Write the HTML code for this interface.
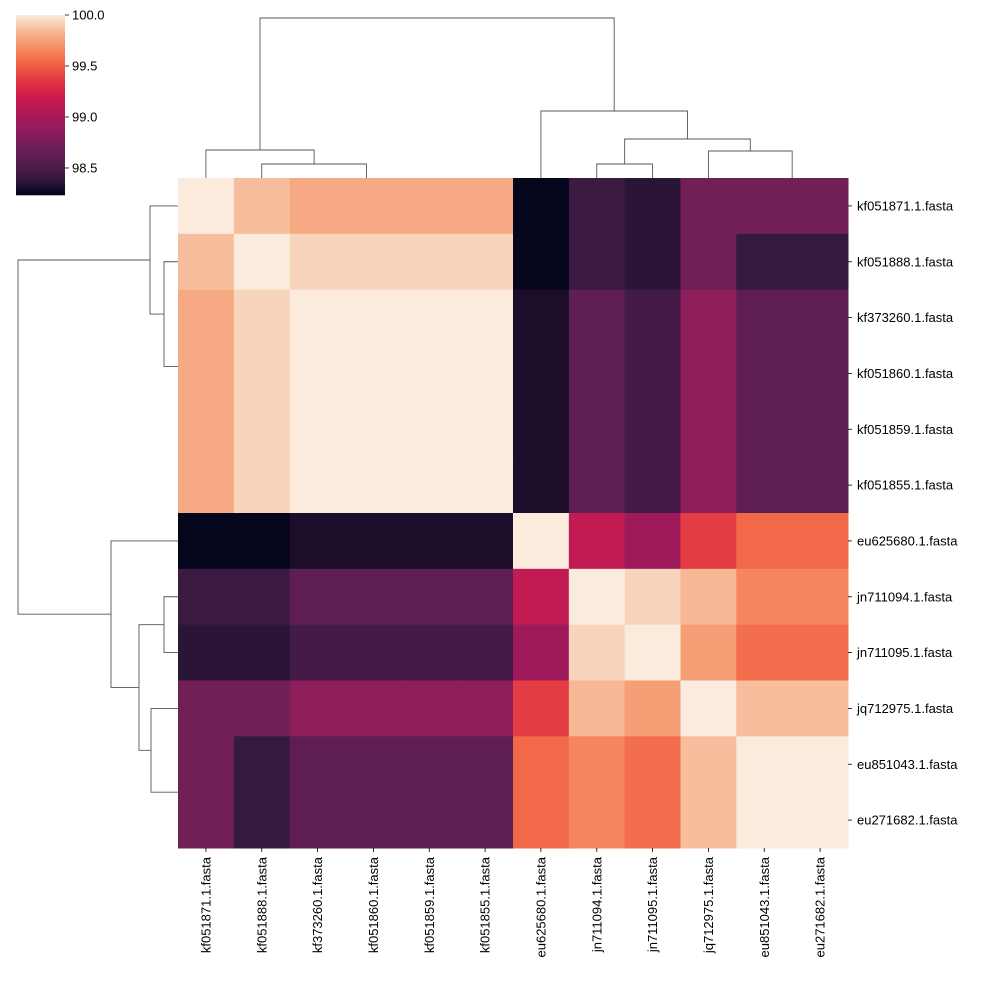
<!DOCTYPE html>
<html><head><meta charset="utf-8"><style>
html,body{margin:0;padding:0;background:#fff;}
svg{display:block;font-family:"Liberation Sans","DejaVu Sans",sans-serif;}
</style></head><body>
<svg id="chart" width="990" height="990" viewBox="0 0 990 990" xmlns="http://www.w3.org/2000/svg"></svg>
<script>
const labels = ["kf051871.1.fasta","kf051888.1.fasta","kf373260.1.fasta","kf051860.1.fasta","kf051859.1.fasta","kf051855.1.fasta","eu625680.1.fasta","jn711094.1.fasta","jn711095.1.fasta","jq712975.1.fasta","eu851043.1.fasta","eu271682.1.fasta"];
const matrix = [
 [100.00,99.86,99.79,99.79,99.79,99.79,98.24,98.43,98.36,98.72,98.72,98.72],
 [99.86,100.00,99.93,99.93,99.93,99.93,98.24,98.43,98.36,98.72,98.40,98.40],
 [99.79,99.93,100.00,100.00,100.00,100.00,98.31,98.61,98.47,98.87,98.61,98.61],
 [99.79,99.93,100.00,100.00,100.00,100.00,98.31,98.61,98.47,98.87,98.61,98.61],
 [99.79,99.93,100.00,100.00,100.00,100.00,98.31,98.61,98.47,98.87,98.61,98.61],
 [99.79,99.93,100.00,100.00,100.00,100.00,98.31,98.61,98.47,98.87,98.61,98.61],
 [98.24,98.24,98.31,98.31,98.31,98.31,100.00,99.14,98.96,99.38,99.54,99.54],
 [98.43,98.43,98.61,98.61,98.61,98.61,99.14,100.00,99.93,99.84,99.65,99.65],
 [98.36,98.36,98.47,98.47,98.47,98.47,98.96,99.93,100.00,99.75,99.56,99.56],
 [98.72,98.72,98.87,98.87,98.87,98.87,99.38,99.84,99.75,100.00,99.86,99.86],
 [98.72,98.40,98.61,98.61,98.61,98.61,99.54,99.65,99.56,99.86,100.00,100.00],
 [98.72,98.40,98.61,98.61,98.61,98.61,99.54,99.65,99.56,99.86,100.00,100.00]
];
const cbTicks = [98.5,99.0,99.5,100.0];
const vmin = 98.235, vmax = 100.0;
// dendrogram links: [leftPos, rightPos, height(px), leftChildHeight, rightChildHeight] in leaf-index units
const links = [
 [4,5,0,0,0],
 [3,4.5,0,0,0],
 [2,3.75,0,0,0],
 [1,2.875,14,0,0],
 [0,1.9375,28,0,14],
 [10,11,0,0,0],
 [7,8,14,0,0],
 [9,10.5,27,0,0],
 [7.5,9.75,39,14,27],
 [6,8.625,67,0,39],
 [0.96875,7.3125,160,28,67]
];
const stops=[[0,"#03051a"],[0.09,"#35193e"],[0.18,"#541e4e"],[0.27,"#701f57"],[0.36,"#8e1d5b"],[0.45,"#ad1759"],[0.54,"#cb1b4f"],[0.63,"#e13342"],[0.72,"#f06043"],[0.81,"#f5895e"],[0.9,"#f6b28c"],[1,"#faebdd"]];
function hex(h){return [1,3,5].map(i=>parseInt(h.substr(i,2),16));}
function cmap(v){let t=Math.max(0,Math.min(1,(v-vmin)/(vmax-vmin)));
 for(let i=1;i<stops.length;i++){if(t<=stops[i][0]){const a=stops[i-1],b=stops[i];const f=(t-a[0])/(b[0]-a[0]);const A=hex(a[1]),B=hex(b[1]);
 return "rgb("+A.map((x,k)=>Math.round(x+(B[k]-x)*f)).join(",")+")";}}return stops[stops.length-1][1];}
const NS="http://www.w3.org/2000/svg", svg=document.getElementById("chart");
function el(tag,attrs,parent){const e=document.createElementNS(NS,tag);for(const k in attrs)e.setAttribute(k,attrs[k]);(parent||svg).appendChild(e);return e;}
const X0=178,Y0=178,S=670/12;
const xs=i=>X0+i*S, ys=i=>Y0+i*S, cx=i=>X0+(i+0.5)*S, cy=i=>Y0+(i+0.5)*S;
const hm=el("g",{});


matrix.forEach((row,r)=>row.forEach((v,c)=>{
 const rc=el("rect",{x:xs(c),y:ys(r),width:S+0.5,height:S+0.5,fill:cmap(v)},hm);
 
 
}));
labels.forEach((l,i)=>{
 el("line",{x1:848,x2:852,y1:cy(i),y2:cy(i),stroke:"#000","stroke-width":0.8});
 const t=el("text",{x:857,y:cy(i)+4.5,"font-size":13});t.textContent=l;
 
 
 el("line",{x1:cx(i),x2:cx(i),y1:848,y2:852,stroke:"#000","stroke-width":0.8});
 const t2=el("text",{transform:`translate(${cx(i)+4.5},857) rotate(-90)`,"font-size":13,"text-anchor":"end"});t2.textContent=l;
 
 
});
const dt=el("g",{fill:"none",stroke:"#555","stroke-width":0.9});


const dl=el("g",{fill:"none",stroke:"#555","stroke-width":0.9});


links.forEach(([a,b,h,ha,hb])=>{
 if(h===0)return;
 el("path",{d:`M${cx(a)},${178-ha}V${178-h}H${cx(b)}V${178-hb}`},dt);
 el("path",{d:`M${178-ha},${cy(a)}H${178-h}V${cy(b)}H${178-hb}`},dl);
});
const cb=el("g",{});


const CT=15,CB=195;
const cby=v=>CB-(v-vmin)/(vmax-vmin)*(CB-CT);
for(let i=0;i<180;i++){const v=vmin+(i+0.5)/180*(vmax-vmin);el("rect",{x:16,y:CB-i-1,width:49,height:1.3,fill:cmap(v)},cb);}
cbTicks.forEach(v=>{const y=cby(v);el("line",{x1:65,x2:69,y1:y,y2:y,stroke:"#000","stroke-width":0.8},cb);
 const t=el("text",{x:72,y:y+4.5,"font-size":13},cb);t.textContent=v.toFixed(1);
 
 });
</script>
</body></html>
